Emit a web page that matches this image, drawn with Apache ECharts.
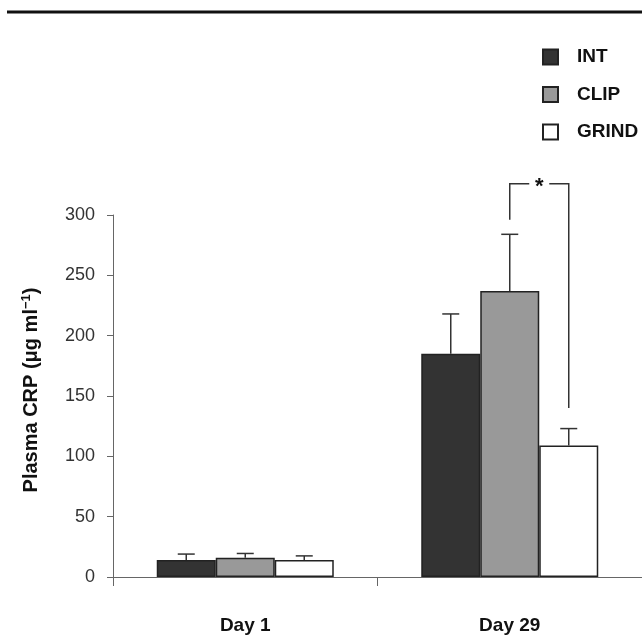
<!DOCTYPE html>
<html>
<head>
<meta charset="utf-8">
<script src="https://cdn.jsdelivr.net/npm/echarts@6/dist/echarts.min.js"></script>
<style>html,body{margin:0;padding:0;background:#fff}#c{width:642px;height:635px}</style>
</head>
<body>
<div id="c"></div>
<script>
const categories = ['Day 1', 'Day 29'];
const seriesNames = ['INT', 'CLIP', 'GRIND'];
const intMean = [14, 185];
const intErr = [5, 33];
const clipMean = [16, 237];
const clipErr = [3.5, 47];
const grindMean = [14, 109];
const grindErr = [3.5, 14];
const yMin = 0, yMax = 300, yInterval = 50;
// significance bracket between CLIP and GRIND on Day 29
const sigCategory = 1;
const sigTop = 326;
const sigLeftBottom = 296;
const sigRightBottom = 140;
const sigLabel = '*';

const BAR_W = 59;
const FONT = 'Liberation Sans, Arial';
const colors = ['#333333', '#999999', '#ffffff'];
const means = [intMean, clipMean, grindMean];
const errs = [intErr, clipErr, grindErr];

const errData = [];
means.forEach((m, s) => m.forEach((v, i) => errData.push([i, v, errs[s][i], s])));

const chart = echarts.init(document.getElementById('c'));
const barSeries = seriesNames.map((n, s) => ({
  name: n, type: 'bar', data: means[s], barWidth: BAR_W, barGap: '0%',
  itemStyle: { color: colors[s], borderColor: '#222', borderWidth: 1.5 },
  z: 2
}));

chart.setOption({
  animation: false,
  grid: { left: 113, right: -3, top: 215, bottom: 58 },
  legend: {
    orient: 'vertical', left: 537, top: 42,
    itemWidth: 15, itemHeight: 15, itemGap: 17.5,
    icon: 'rect',
    textStyle: { fontFamily: FONT, fontWeight: 'bold', fontSize: 19, lineHeight: 20, color: '#111', padding: [0, 0, 0, 14] },
    data: seriesNames
  },
  xAxis: {
    type: 'category', data: categories,
    axisLine: { lineStyle: { color: '#666', width: 1 } },
    axisTick: { show: true, length: 9, alignWithLabel: false, lineStyle: { color: '#666' } },
    axisLabel: { margin: 39, fontFamily: FONT, fontWeight: 'bold', fontSize: 19, color: '#111' }
  },
  yAxis: {
    type: 'value', min: yMin, max: yMax, interval: yInterval,
    splitLine: { show: false },
    axisLine: { show: true, lineStyle: { color: '#666', width: 1 } },
    axisTick: { show: true, length: 6, lineStyle: { color: '#666' } },
    axisLabel: { margin: 18, fontFamily: FONT, fontSize: 18, color: '#333' }
  },
  graphic: [
    { type: 'line', shape: { x1: 7, y1: 12, x2: 642, y2: 12 }, style: { stroke: '#111', lineWidth: 3 } },
    { type: 'text', x: 31, y: 390, rotation: Math.PI / 2,
      style: {
        text: '{b|Plasma CRP (μg ml}{s|−1}{b|)}',
        align: 'center', verticalAlign: 'middle',
        rich: {
          b: { fontFamily: FONT, fontWeight: 'bold', fontSize: 20, fill: '#111' },
          s: { fontFamily: FONT, fontWeight: 'bold', fontSize: 13, fill: '#111', verticalAlign: 'top', padding: [0, 0, 9, 0] }
        }
      }
    }
  ],
  series: barSeries.concat([
    {
      type: 'custom', name: 'err', data: errData, z: 3,
      renderItem: function (params, api) {
        const i = api.value(0), m = api.value(1), e = api.value(2), s = api.value(3);
        const base = api.coord([i, m]);
        const top = api.coord([i, m + e]);
        const x = base[0] + (s - 1) * BAR_W;
        return { type: 'group', children: [
          { type: 'line', shape: { x1: x, y1: base[1], x2: x, y2: top[1] }, style: { stroke: '#333', lineWidth: 1.5 } },
          { type: 'line', shape: { x1: x - 8.5, y1: top[1], x2: x + 8.5, y2: top[1] }, style: { stroke: '#333', lineWidth: 1.5 } }
        ]};
      }
    },
    {
      type: 'custom', name: 'sig', data: [[sigCategory, sigTop, sigLeftBottom, sigRightBottom]], z: 4,
      renderItem: function (params, api) {
        const i = api.value(0);
        const t = api.coord([i, api.value(1)]);
        const lb = api.coord([i, api.value(2)]);
        const rb = api.coord([i, api.value(3)]);
        const xl = t[0];
        const xr = t[0] + BAR_W;
        const xm = (xl + xr) / 2;
        const st = { stroke: '#333', lineWidth: 1.5, fill: null };
        return { type: 'group', children: [
          { type: 'polyline', shape: { points: [[xl, lb[1]], [xl, t[1]], [xm - 10, t[1]]] }, style: st },
          { type: 'polyline', shape: { points: [[xm + 10, t[1]], [xr, t[1]], [xr, rb[1]]] }, style: st },
          { type: 'text', x: xm, y: t[1] + 3, style: { text: sigLabel, align: 'center', verticalAlign: 'middle', fontFamily: FONT, fontWeight: 'bold', fontSize: 22, fill: '#111' } }
        ]};
      }
    }
  ])
});
</script>
</body>
</html>
